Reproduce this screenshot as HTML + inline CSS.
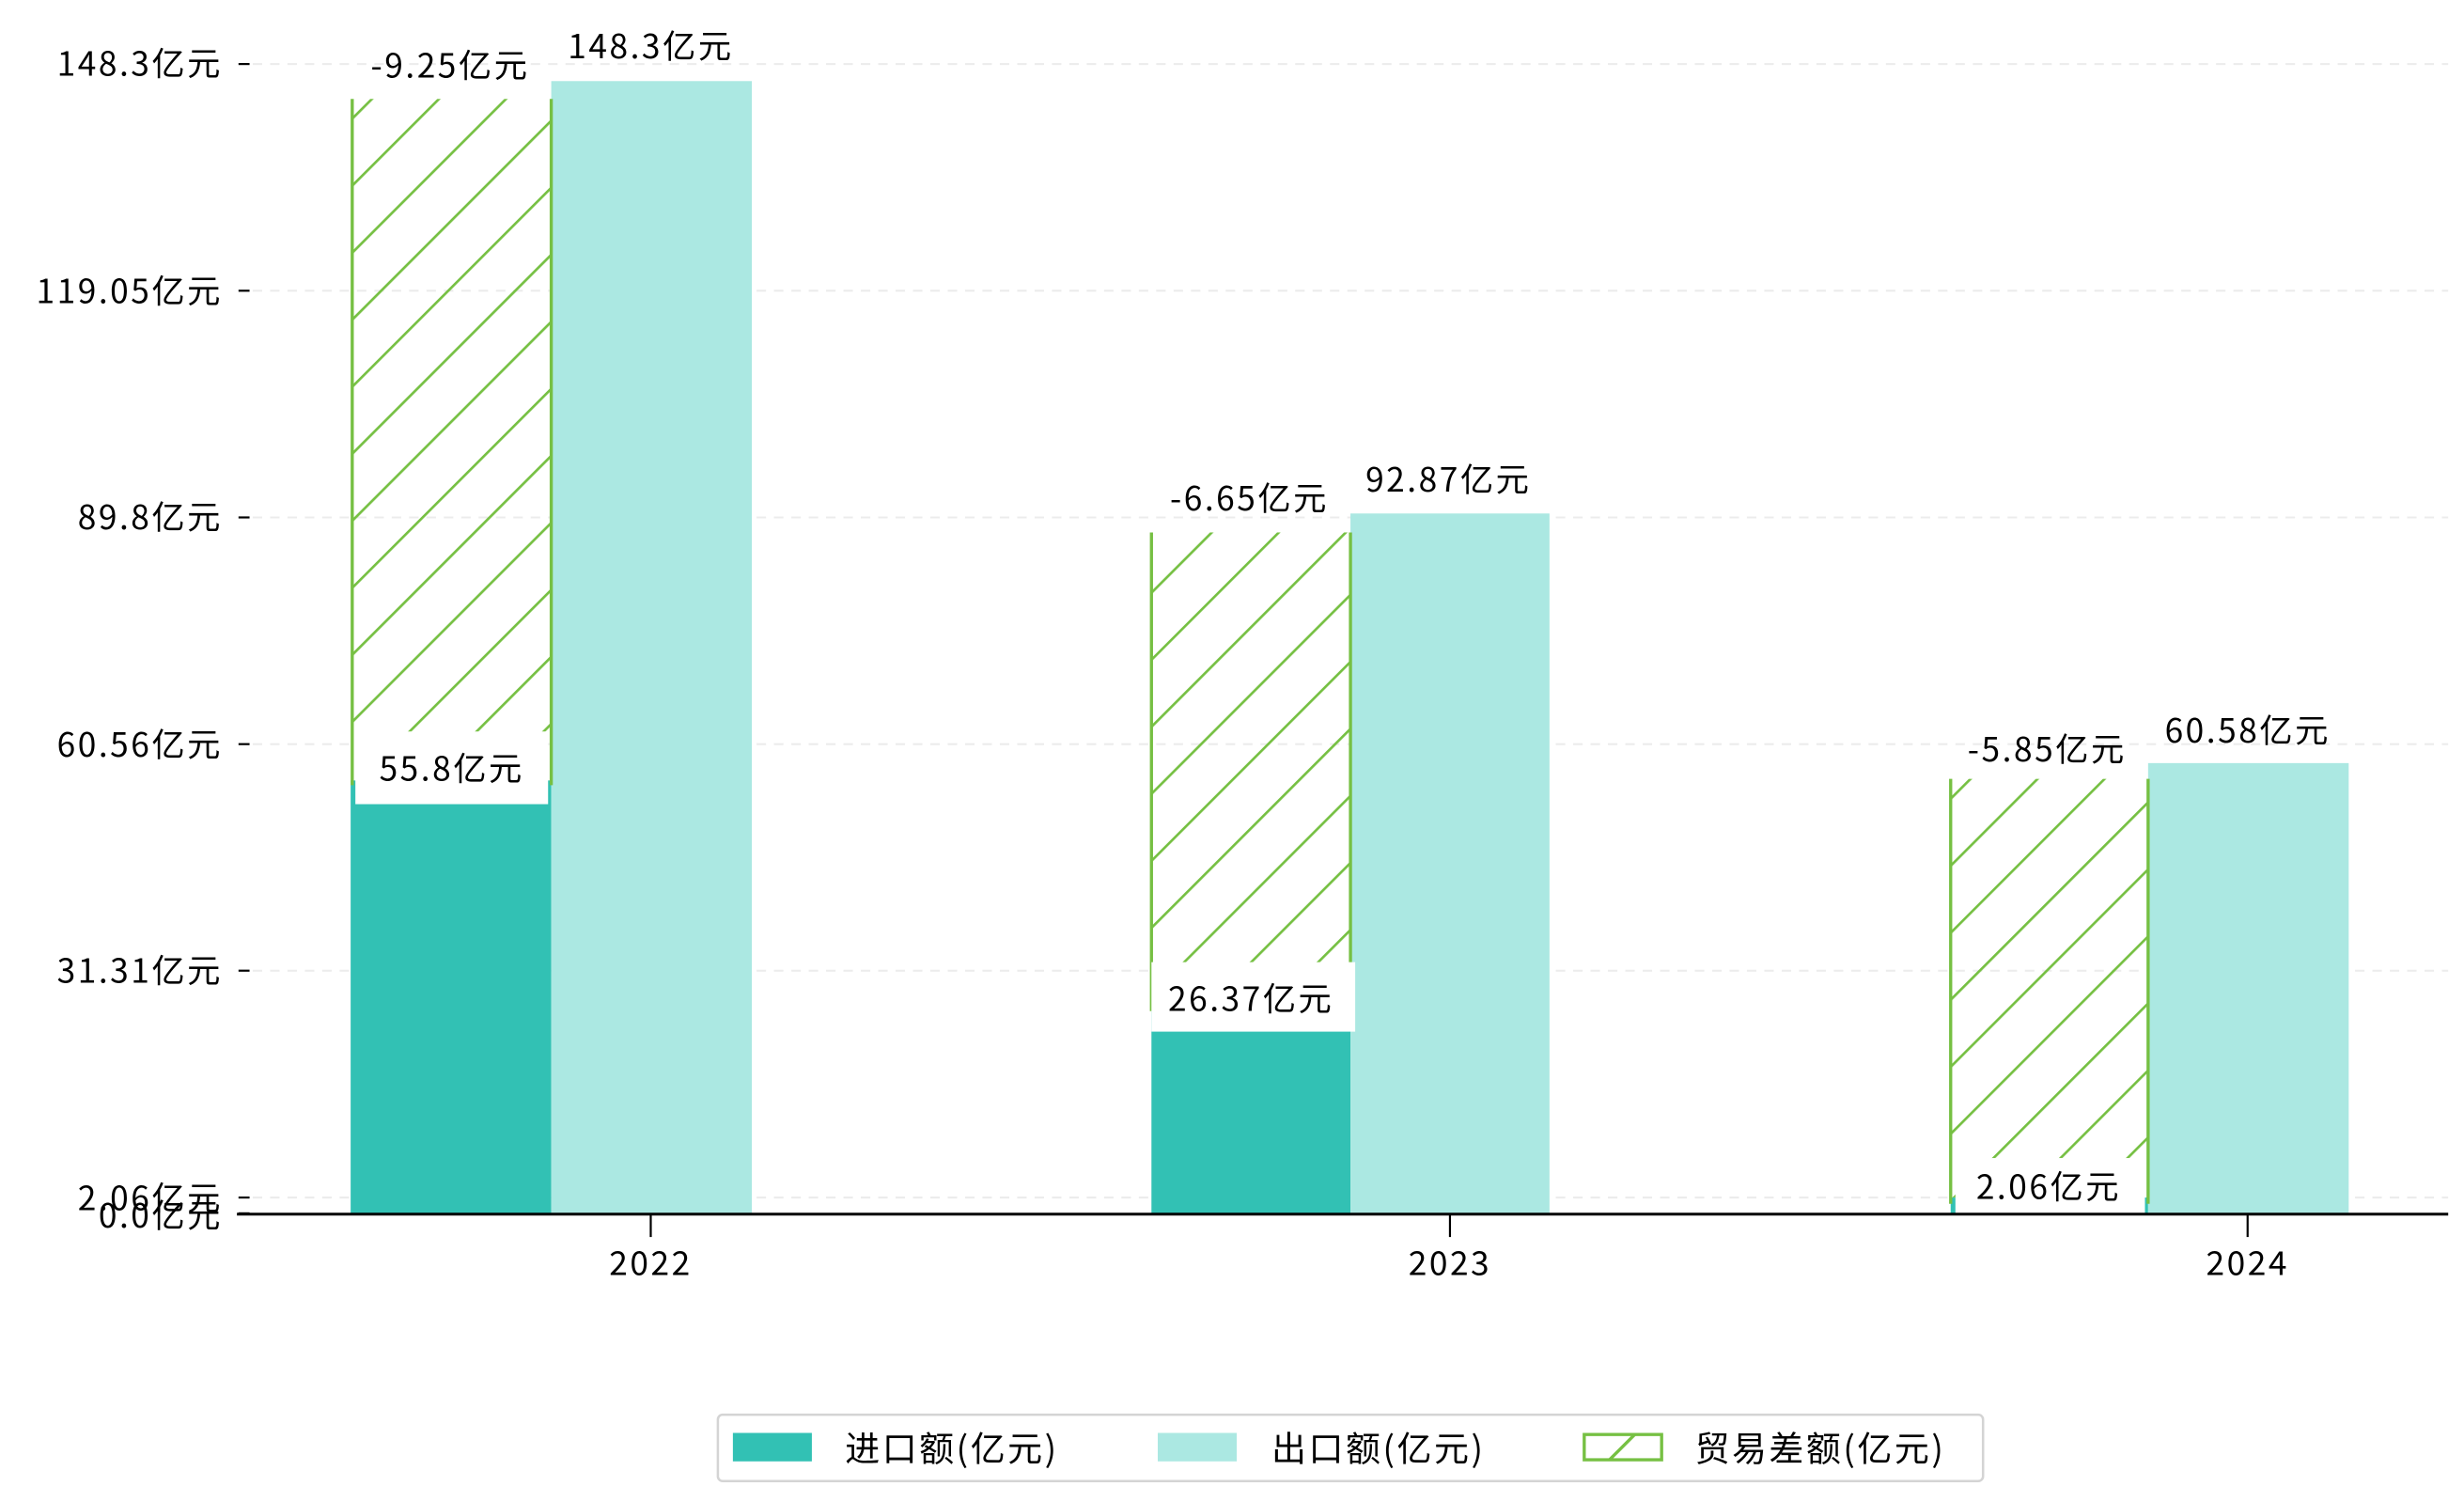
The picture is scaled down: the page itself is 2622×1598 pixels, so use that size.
<!DOCTYPE html>
<html><head><meta charset="utf-8"><style>
html,body{margin:0;padding:0;background:#fff;}
svg{display:block;}
text{font-family:"WenQuanYi Zen Hei","Noto Sans CJK SC",sans-serif;fill:#000;letter-spacing:1.5px;}
</style></head><body>
<svg width="2622" height="1598" viewBox="0 0 1560 950.7" xmlns="http://www.w3.org/2000/svg">
<defs>
<pattern id="h" patternUnits="userSpaceOnUse" width="30" height="30" patternTransform="rotate(45)">
<line x1="0" y1="0" x2="0" y2="30" stroke="#76c043" stroke-width="3.2"/>
</pattern>
</defs>
<g stroke="#ececec" stroke-width="1.2" stroke-dasharray="6,5">
<line x1="160" y1="40.5" x2="1550" y2="40.5"/>
<line x1="160" y1="184" x2="1550" y2="184"/>
<line x1="160" y1="327.5" x2="1550" y2="327.5"/>
<line x1="160" y1="471" x2="1550" y2="471"/>
<line x1="160" y1="614.4" x2="1550" y2="614.4"/>
<line x1="160" y1="758" x2="1550" y2="758"/>
</g>
<g stroke="#000" stroke-width="1.3">
<line x1="151" y1="40.5" x2="158" y2="40.5"/>
<line x1="151" y1="184" x2="158" y2="184"/>
<line x1="151" y1="327.5" x2="158" y2="327.5"/>
<line x1="151" y1="471" x2="158" y2="471"/>
<line x1="151" y1="614.4" x2="158" y2="614.4"/>
<line x1="151" y1="758" x2="158" y2="758"/>
<line x1="151" y1="768" x2="158" y2="768"/>
</g>
<g font-size="21" text-anchor="end">
<text x="141" y="48">148.3亿元</text>
<text x="141" y="192">119.05亿元</text>
<text x="141" y="335">89.8亿元</text>
<text x="141" y="479">60.56亿元</text>
<text x="141" y="622">31.31亿元</text>
<text x="141" y="766">2.06亿元</text>
<text x="141" y="777">0.0亿元</text>
</g>
<rect x="222" y="494" width="127" height="274" fill="#32c1b4"/>
<rect x="349" y="51.3" width="127" height="716.7" fill="#abe8e2"/>
<rect x="729" y="638" width="126" height="130" fill="#32c1b4"/>
<rect x="855" y="325" width="126" height="443" fill="#abe8e2"/>
<rect x="1235" y="758" width="125" height="10" fill="#32c1b4"/>
<rect x="1360" y="483" width="127" height="285" fill="#abe8e2"/>
<rect x="223" y="62.6" width="126" height="431.4" fill="url(#h)"/>
<rect x="729" y="337" width="126" height="301" fill="url(#h)"/>
<rect x="1235" y="493" width="125" height="265" fill="url(#h)"/>
<g stroke="#76c043" stroke-width="2">
<line x1="223" y1="62.6" x2="223" y2="497"/><line x1="349" y1="62.6" x2="349" y2="497"/>
<line x1="729" y1="337" x2="729" y2="640"/><line x1="855" y1="337" x2="855" y2="640"/>
<line x1="1235" y1="493" x2="1235" y2="762"/><line x1="1360" y1="493" x2="1360" y2="762"/>
</g>
<rect x="225" y="463" width="122" height="46" fill="#fff"/>
<rect x="729" y="609" width="129" height="44" fill="#fff"/>
<rect x="1238" y="733" width="120" height="40" fill="#fff"/>
<line x1="150" y1="768.5" x2="1550" y2="768.5" stroke="#000" stroke-width="1.8"/>
<g stroke="#000" stroke-width="1.3">
<line x1="412" y1="768" x2="412" y2="783"/>
<line x1="918" y1="768" x2="918" y2="783"/>
<line x1="1423" y1="768" x2="1423" y2="783"/>
</g>
<g font-size="21" text-anchor="middle">
<text x="412" y="807">2022</text>
<text x="918" y="807">2023</text>
<text x="1423" y="807">2024</text>
<text x="285" y="49">-9.25亿元</text>
<text x="412" y="37">148.3亿元</text>
<text x="286" y="494">55.8亿元</text>
<text x="791" y="323">-6.65亿元</text>
<text x="917" y="311">92.87亿元</text>
<text x="792" y="640">26.37亿元</text>
<text x="1296" y="482">-5.85亿元</text>
<text x="1423" y="470">60.58亿元</text>
<text x="1297" y="759">2.06亿元</text>
</g>
<rect x="454.5" y="895.5" width="801" height="42" rx="3" fill="#fff" stroke="#d4d4d4" stroke-width="1.5"/>
<rect x="464" y="907" width="50" height="18" fill="#32c1b4"/>
<rect x="733" y="907" width="50" height="18" fill="#abe8e2"/>
<rect x="1003" y="908" width="49" height="16" fill="#fff" stroke="#76c043" stroke-width="2"/>
<line x1="1019" y1="924" x2="1035" y2="908" stroke="#76c043" stroke-width="2"/>
<g font-size="22">
<text x="535" y="925">进口额(亿元)</text>
<text x="805" y="925">出口额(亿元)</text>
<text x="1073" y="925">贸易差额(亿元)</text>
</g>
</svg>
</body></html>
